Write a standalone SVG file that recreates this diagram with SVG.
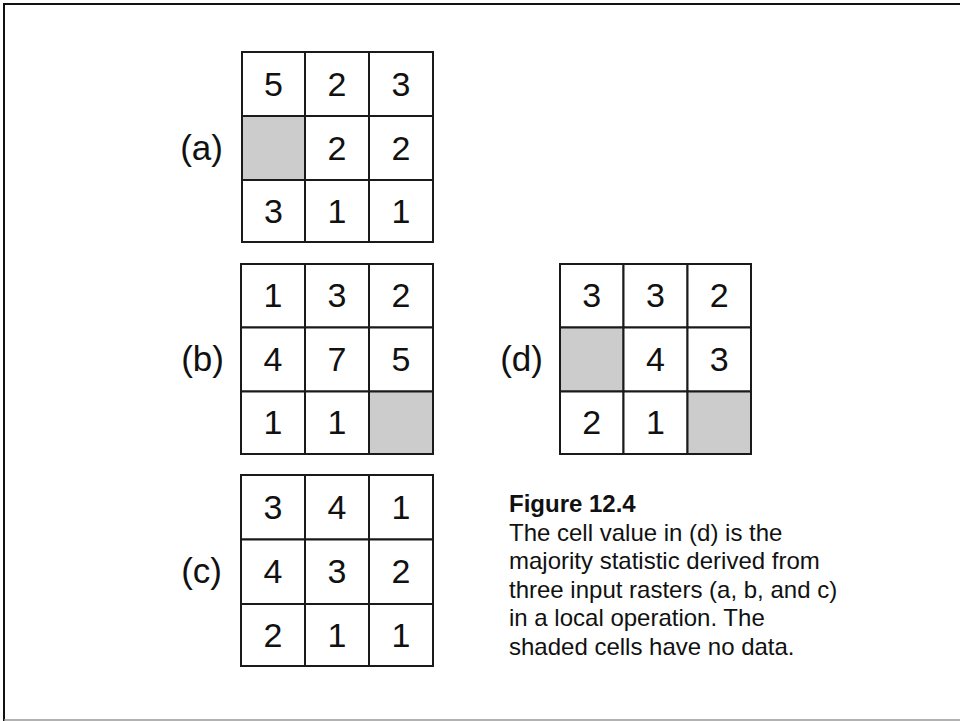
<svg xmlns="http://www.w3.org/2000/svg" width="960" height="721" viewBox="0 0 960 721">
<style>
.cell{fill:#ffffff;stroke:#1a1a1a;stroke-width:2}
.nd{fill:#cccccc;stroke:#1a1a1a;stroke-width:2}
.num{font-family:"Liberation Sans",Arial,sans-serif;font-size:34px;fill:#111;text-anchor:middle}
.lbl{font-family:"Liberation Sans",Arial,sans-serif;font-size:35px;fill:#111;text-anchor:end}
.cap{font-family:"Liberation Sans",Arial,sans-serif;font-size:24px;fill:#111}
</style>
<rect x="0" y="0" width="960" height="721" fill="#ffffff"/>
<path d="M4,721 V4 H960" fill="none" stroke="#111" stroke-width="2"/>
<line x1="4" y1="720" x2="960" y2="720" stroke="#999" stroke-width="1.5"/>

<g id="grid-a">
<text class="lbl" x="223" y="159.5">(a)</text>
<rect class="cell" x="242" y="52" width="63" height="64"/>
<rect class="cell" x="305" y="52" width="64" height="64"/>
<rect class="cell" x="369" y="52" width="64" height="64"/>
<rect class="nd" x="242" y="116" width="63" height="64"/>
<rect class="cell" x="305" y="116" width="64" height="64"/>
<rect class="cell" x="369" y="116" width="64" height="64"/>
<rect class="cell" x="242" y="180" width="63" height="62"/>
<rect class="cell" x="305" y="180" width="64" height="62"/>
<rect class="cell" x="369" y="180" width="64" height="62"/>
<text class="num" x="273.5" y="95.5">5</text>
<text class="num" x="337" y="95.5">2</text>
<text class="num" x="401" y="95.5">3</text>
<text class="num" x="337" y="159.5">2</text>
<text class="num" x="401" y="159.5">2</text>
<text class="num" x="273.5" y="222.5">3</text>
<text class="num" x="337" y="222.5">1</text>
<text class="num" x="401" y="222.5">1</text>
</g>

<g id="grid-b">
<text class="lbl" x="224" y="371">(b)</text>
<rect class="cell" x="241" y="264" width="64" height="63.5"/>
<rect class="cell" x="305" y="264" width="64" height="63.5"/>
<rect class="cell" x="369" y="264" width="64" height="63.5"/>
<rect class="cell" x="241" y="327.5" width="64" height="64"/>
<rect class="cell" x="305" y="327.5" width="64" height="64"/>
<rect class="cell" x="369" y="327.5" width="64" height="64"/>
<rect class="cell" x="241" y="391.5" width="64" height="62.5"/>
<rect class="cell" x="305" y="391.5" width="64" height="62.5"/>
<rect class="nd" x="369" y="391.5" width="64" height="62.5"/>
<text class="num" x="273" y="307">1</text>
<text class="num" x="337" y="307">3</text>
<text class="num" x="401" y="307">2</text>
<text class="num" x="273" y="371">4</text>
<text class="num" x="337" y="371">7</text>
<text class="num" x="401" y="371">5</text>
<text class="num" x="273" y="434">1</text>
<text class="num" x="337" y="434">1</text>
</g>

<g id="grid-c">
<text class="lbl" x="222" y="583">(c)</text>
<rect class="cell" x="241" y="475" width="64" height="64.5"/>
<rect class="cell" x="305" y="475" width="64" height="64.5"/>
<rect class="cell" x="369" y="475" width="64" height="64.5"/>
<rect class="cell" x="241" y="539.5" width="64" height="64.5"/>
<rect class="cell" x="305" y="539.5" width="64" height="64.5"/>
<rect class="cell" x="369" y="539.5" width="64" height="64.5"/>
<rect class="cell" x="241" y="604" width="64" height="62"/>
<rect class="cell" x="305" y="604" width="64" height="62"/>
<rect class="cell" x="369" y="604" width="64" height="62"/>
<text class="num" x="273" y="518.5">3</text>
<text class="num" x="337" y="518.5">4</text>
<text class="num" x="401" y="518.5">1</text>
<text class="num" x="273" y="583">4</text>
<text class="num" x="337" y="583">3</text>
<text class="num" x="401" y="583">2</text>
<text class="num" x="273" y="646.5">2</text>
<text class="num" x="337" y="646.5">1</text>
<text class="num" x="401" y="646.5">1</text>
</g>

<g id="grid-d">
<text class="lbl" x="543" y="371">(d)</text>
<rect class="cell" x="560" y="264" width="63.5" height="63.5"/>
<rect class="cell" x="623.5" y="264" width="64" height="63.5"/>
<rect class="cell" x="687.5" y="264" width="63.5" height="63.5"/>
<rect class="nd" x="560" y="327.5" width="63.5" height="64"/>
<rect class="cell" x="623.5" y="327.5" width="64" height="64"/>
<rect class="cell" x="687.5" y="327.5" width="63.5" height="64"/>
<rect class="cell" x="560" y="391.5" width="63.5" height="62.5"/>
<rect class="cell" x="623.5" y="391.5" width="64" height="62.5"/>
<rect class="nd" x="687.5" y="391.5" width="63.5" height="62.5"/>
<text class="num" x="591.75" y="307">3</text>
<text class="num" x="655.5" y="307">3</text>
<text class="num" x="719.25" y="307">2</text>
<text class="num" x="655.5" y="371">4</text>
<text class="num" x="719.25" y="371">3</text>
<text class="num" x="591.75" y="434">2</text>
<text class="num" x="655.5" y="434">1</text>
</g>

<g id="connectors"></g>

<g id="caption">
<text class="cap" x="509" y="511.5" font-weight="bold">Figure 12.4</text>
<text class="cap" x="509" y="540.5">The cell value in (d) is the</text>
<text class="cap" x="509" y="569">majority statistic derived from</text>
<text class="cap" x="509" y="597.5">three input rasters (a, b, and c)</text>
<text class="cap" x="509" y="626">in a local operation. The</text>
<text class="cap" x="509" y="654.5">shaded cells have no data.</text>
</g>
</svg>
